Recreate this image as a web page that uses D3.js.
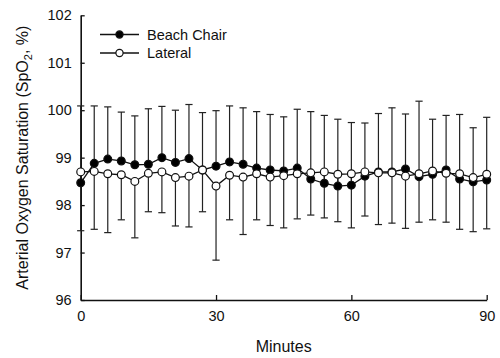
<!DOCTYPE html>
<html>
<head>
<meta charset="utf-8">
<script src="https://cdn.jsdelivr.net/npm/d3@7"></script>
<style>
  body { margin: 0; background: #fff; }
  svg text { font-family: Arial, "Liberation Sans", sans-serif; fill: #111; }
</style>
</head>
<body>
<svg id="chart" width="500" height="358"></svg>
<script>
// time points (minutes)
const minutes = [0, 3, 6, 9, 12, 15, 18, 21, 24, 27, 30, 33, 36, 39, 42, 45,
                 48, 51, 54, 57, 60, 63, 66, 69, 72, 75, 78, 81, 84, 87, 90];

// Beach Chair mean SpO2 and SD (drawn upward)
const beachChair = [98.47, 98.88, 98.97, 98.93, 98.85, 98.86, 99.00, 98.90, 98.98, 98.74,
                    98.82, 98.91, 98.86, 98.78, 98.74, 98.72, 98.78, 98.55, 98.46, 98.40,
                    98.42, 98.61, 98.70, 98.70, 98.76, 98.60, 98.65, 98.74, 98.55, 98.49, 98.53];
const beachChairSD = [1.62, 1.21, 1.10, 1.03, 1.03, 1.17, 1.08, 1.10, 1.14, 1.21,
                      1.17, 1.18, 1.19, 1.19, 1.17, 1.14, 1.24, 1.42, 1.43, 1.41,
                      1.32, 1.12, 1.23, 1.35, 1.16, 1.59, 1.16, 1.15, 1.36, 1.14, 1.32];

// Lateral mean SpO2 and SD (drawn downward)
const lateral = [98.70, 98.71, 98.66, 98.64, 98.50, 98.67, 98.70, 98.58, 98.61, 98.74,
                 98.40, 98.63, 98.59, 98.66, 98.59, 98.62, 98.66, 98.68, 98.70, 98.65,
                 98.66, 98.70, 98.68, 98.68, 98.61, 98.66, 98.72, 98.67, 98.66, 98.58, 98.65];
const lateralSD = [1.24, 1.22, 1.24, 0.95, 1.19, 0.81, 0.86, 1.02, 1.07, 0.88,
                   1.56, 0.94, 1.21, 0.97, 1.02, 1.10, 0.95, 0.89, 0.97, 1.00,
                   1.14, 0.93, 1.09, 1.06, 1.10, 1.02, 1.03, 1.03, 1.17, 1.14, 1.15];

const xTicks = [0, 30, 60, 90];
const yTicks = [96, 97, 98, 99, 100, 101, 102];
const seriesNames = ["Beach Chair", "Lateral"];

const svg = d3.select("#chart");
const margin = {left: 80.7, top: 15.3, right: 13.3, bottom: 58};
const width = 500 - margin.left - margin.right;
const height = 358 - margin.top - margin.bottom;

const x = d3.scaleLinear().domain([0, 90]).range([0, width]);
const y = d3.scaleLinear().domain([96, 102]).range([height, 0]);

const g = svg.append("g").attr("transform", `translate(${margin.left},${margin.top})`);

// axes, ticks pointing inward
const yAxis = g.append("g")
    .call(d3.axisLeft(y).tickValues(yTicks).tickFormat(d3.format("d"))
        .tickSizeInner(-4).tickSizeOuter(0).tickPadding(9));
const xAxis = g.append("g")
    .attr("transform", `translate(0,${height})`)
    .call(d3.axisBottom(x).tickValues(xTicks).tickFormat(d3.format("d"))
        .tickSizeInner(-5).tickSizeOuter(0).tickPadding(11));

[yAxis, xAxis].forEach(a => {
    a.select(".domain").attr("stroke", "#111").attr("stroke-width", 1.6);
    a.selectAll(".tick line").attr("stroke", "#111").attr("stroke-width", 1.3);
    a.selectAll(".tick text").attr("font-size", 14.5).attr("fill", "#111");
});

// error bars
function errorBars(vals, sds, dir) {
    const eb = g.append("g").attr("stroke", "#222").attr("stroke-width", 1.2);
    minutes.forEach((m, i) => {
        const end = vals[i] + dir * sds[i];
        eb.append("line")
            .attr("x1", x(m)).attr("x2", x(m))
            .attr("y1", y(vals[i])).attr("y2", y(end));
        eb.append("line")
            .attr("x1", x(m) - 3.6).attr("x2", x(m) + 3.6)
            .attr("y1", y(end)).attr("y2", y(end));
    });
}
errorBars(beachChair, beachChairSD, 1);
errorBars(lateral, lateralSD, -1);

const line = d3.line().x((d, i) => x(minutes[i])).y(d => y(d));

function drawSeries(vals, fill) {
    g.append("path")
        .datum(vals)
        .attr("d", line)
        .attr("fill", "none")
        .attr("stroke", "#111")
        .attr("stroke-width", 1.3);
    g.append("g").selectAll("circle")
        .data(vals)
        .enter()
        .append("circle")
            .attr("cx", (d, i) => x(minutes[i]))
            .attr("cy", d => y(d))
            .attr("r", 3.9)
            .attr("fill", fill)
            .attr("stroke", "#111")
            .attr("stroke-width", 1.2);
}
drawSeries(beachChair, "#000");
drawSeries(lateral, "#fff");

// legend
const legend = svg.append("g");
seriesNames.forEach((name, i) => {
    const ly = 34.5 + i * 18.5;
    legend.append("line")
        .attr("x1", 100).attr("x2", 139)
        .attr("y1", ly).attr("y2", ly)
        .attr("stroke", "#111").attr("stroke-width", 1.3);
    legend.append("circle")
        .attr("cx", 119.5).attr("cy", ly).attr("r", 3.6)
        .attr("fill", i === 0 ? "#000" : "#fff")
        .attr("stroke", "#111").attr("stroke-width", 1.2);
    legend.append("text")
        .attr("x", 147).attr("y", ly)
        .attr("dy", "0.36em")
        .attr("font-size", 14.5)
        .text(name);
});

// axis titles
svg.append("text")
    .attr("x", margin.left + width / 2)
    .attr("y", 352)
    .attr("text-anchor", "middle")
    .attr("font-size", 16)
    .text("Minutes");

const yTitle = svg.append("text")
    .attr("transform", `translate(28,${margin.top + height / 2}) rotate(-90)`)
    .attr("text-anchor", "middle")
    .attr("font-size", 16);
yTitle.append("tspan").text("Arterial Oxygen Saturation (SpO");
yTitle.append("tspan").attr("font-size", 11).attr("dy", 4).text("2");
yTitle.append("tspan").attr("dy", -4).text(", %)");
</script>
</body>
</html>
